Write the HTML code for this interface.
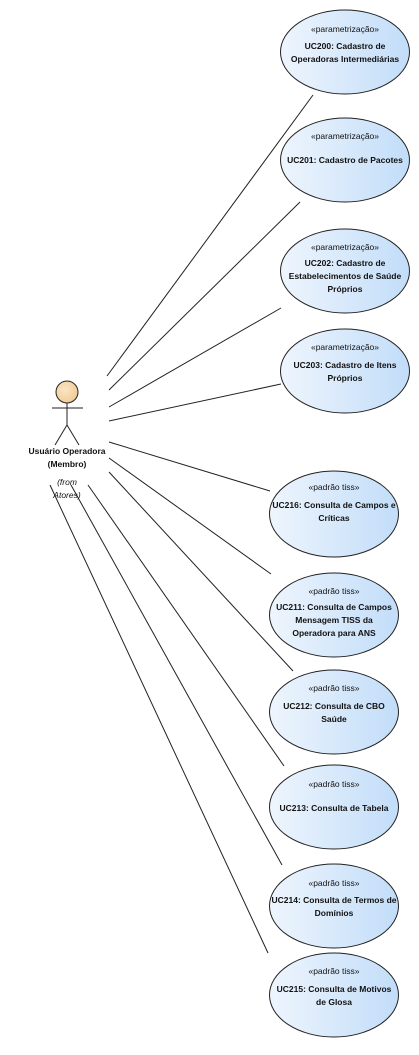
<!DOCTYPE html>
<html><head><meta charset="utf-8"><style>
html,body{margin:0;padding:0;background:#fff;}
svg{display:block;font-family:"Liberation Sans",sans-serif;}
.s{font-size:8.5px;fill:#111;}
.t{font-size:8.5px;font-weight:bold;fill:#111;}
</style></head><body>
<svg width="419" height="1055" viewBox="0 0 419 1055" xmlns="http://www.w3.org/2000/svg">
<defs>
<linearGradient id="g" x1="0" y1="0" x2="1" y2="0">
<stop offset="0" stop-color="#eef5fd"/><stop offset="1" stop-color="#c2ddf9"/>
</linearGradient>
<radialGradient id="h" cx="0.4" cy="0.4" r="0.7"><stop offset="0" stop-color="#fbe4c4"/><stop offset="1" stop-color="#f0c990"/></radialGradient>
</defs>
<g stroke="#222" stroke-width="1" fill="none">
<line x1="107" y1="376" x2="313" y2="95"/>
<line x1="109" y1="390" x2="300" y2="202"/>
<line x1="109" y1="407" x2="281" y2="308"/>
<line x1="109" y1="421" x2="281" y2="384"/>
<line x1="109" y1="442" x2="270" y2="491"/>
<line x1="109" y1="458" x2="271" y2="574"/>
<line x1="109" y1="472" x2="293" y2="671"/>
<line x1="88" y1="485" x2="284" y2="766"/>
<line x1="71" y1="485" x2="282" y2="865"/>
<line x1="50" y1="485" x2="268" y2="953"/>
</g>
<circle cx="67" cy="392" r="11" fill="url(#h)" stroke="#222"/>
<g stroke="#222" fill="none">
<line x1="67" y1="403" x2="67" y2="425"/>
<line x1="52" y1="408" x2="83" y2="408"/>
<line x1="67" y1="425" x2="55" y2="445"/>
<line x1="67" y1="425" x2="79" y2="445"/>
</g>
<text class="t" x="67" y="454" text-anchor="middle">Usuário Operadora</text>
<text class="t" x="67" y="467" text-anchor="middle">(Membro)</text>
<text class="s" x="67" y="485" text-anchor="middle" font-style="italic">(from</text>
<text class="s" x="67" y="498" text-anchor="middle" font-style="italic">Atores)</text>
<g stroke="#222" fill="url(#g)">
<ellipse cx="345" cy="52" rx="64.5" ry="42"/>
<ellipse cx="345" cy="160" rx="64.5" ry="42"/>
<ellipse cx="345" cy="271" rx="64.5" ry="42"/>
<ellipse cx="345" cy="371" rx="64.5" ry="42"/>
<ellipse cx="334" cy="514" rx="64.5" ry="43"/>
<ellipse cx="334" cy="615" rx="64.5" ry="42"/>
<ellipse cx="334" cy="712" rx="64.5" ry="42"/>
<ellipse cx="334" cy="807" rx="64.5" ry="42"/>
<ellipse cx="334" cy="906" rx="64.5" ry="42"/>
<ellipse cx="334" cy="995" rx="64.5" ry="42"/>
</g>
<g text-anchor="middle">
<text class="s" x="345" y="32">«parametrização»</text>
<text class="t" x="345" y="49">UC200: Cadastro de</text>
<text class="t" x="345" y="62">Operadoras Intermediárias</text>
<text class="s" x="345" y="139">«parametrização»</text>
<text class="t" x="345" y="163">UC201: Cadastro de Pacotes</text>
<text class="s" x="345" y="250">«parametrização»</text>
<text class="t" x="345" y="266">UC202: Cadastro de</text>
<text class="t" x="345" y="279">Estabelecimentos de Saúde</text>
<text class="t" x="345" y="292">Próprios</text>
<text class="s" x="345" y="350">«parametrização»</text>
<text class="t" x="345" y="368">UC203: Cadastro de Itens</text>
<text class="t" x="345" y="381">Próprios</text>
<text class="s" x="334" y="490">«padrão tiss»</text>
<text class="t" x="334" y="508">UC216: Consulta de Campos e</text>
<text class="t" x="334" y="521">Críticas</text>
<text class="s" x="334" y="594">«padrão tiss»</text>
<text class="t" x="334" y="610">UC211: Consulta de Campos</text>
<text class="t" x="334" y="623">Mensagem TISS da</text>
<text class="t" x="334" y="636">Operadora para ANS</text>
<text class="s" x="334" y="691">«padrão tiss»</text>
<text class="t" x="334" y="709">UC212: Consulta de CBO</text>
<text class="t" x="334" y="722">Saúde</text>
<text class="s" x="334" y="787">«padrão tiss»</text>
<text class="t" x="334" y="811">UC213: Consulta de Tabela</text>
<text class="s" x="334" y="886">«padrão tiss»</text>
<text class="t" x="334" y="903">UC214: Consulta de Termos de</text>
<text class="t" x="334" y="916">Domínios</text>
<text class="s" x="334" y="974">«padrão tiss»</text>
<text class="t" x="334" y="992">UC215: Consulta de Motivos</text>
<text class="t" x="334" y="1005">de Glosa</text>
</g>
</svg>
</body></html>
